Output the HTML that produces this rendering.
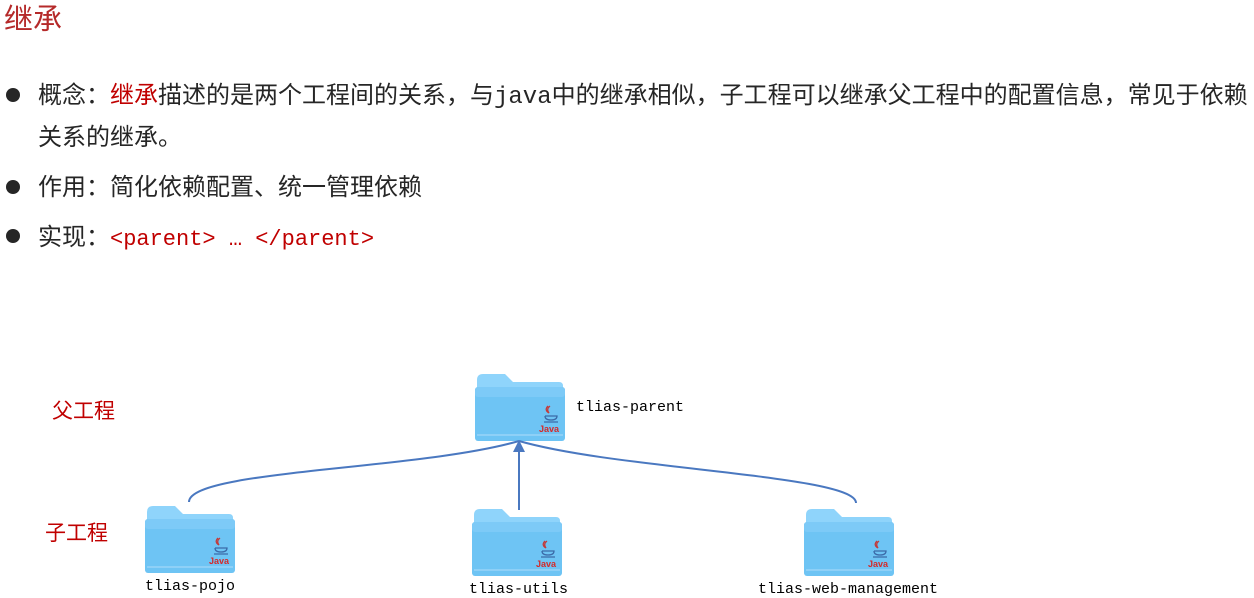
<!DOCTYPE html>
<html><head><meta charset="utf-8"><style>
body{margin:0;width:1254px;height:598px;background:#fff;position:relative;overflow:hidden;font-family:"Liberation Sans","Noto Sans CJK SC",sans-serif;color:#262626}
.a{position:absolute;white-space:nowrap}
.t{font-size:24px;line-height:24px}
.r{color:#c00000}
.m{font-family:"Liberation Mono","Noto Sans CJK SC",monospace}
.dot{position:absolute;width:14px;height:14px;border-radius:50%;background:#262626;left:6px}
</style></head><body>
<div class="a" style="left:4px;top:4px;font-size:29px;line-height:32px;color:#b52a2a">继承</div>
<div class="dot" style="top:88px"></div>
<div class="a t" style="left:38px;top:84px">概念：<span class="r">继承</span>描述的是两个工程间的关系，与<span class="m">java</span>中的继承相似，子工程可以继承父工程中的配置信息，常见于依赖</div>
<div class="a t" style="left:38px;top:126px">关系的继承。</div>
<div class="dot" style="top:180px"></div>
<div class="a t" style="left:38px;top:176px">作用：简化依赖配置、统一管理依赖</div>
<div class="dot" style="top:229px"></div>
<div class="a t" style="left:38px;top:226px">实现：<span class="r m" style="font-size:22px">&lt;parent&gt; … &lt;/parent&gt;</span></div>
<div class="a r" style="left:52px;top:395px;font-size:21px">父工程</div>
<div class="a r" style="left:45px;top:517px;font-size:21px">子工程</div>
<svg class="a" style="left:0;top:0" width="1254" height="598">
<defs>
<g id="f">
<path d="M2 6 Q2 0 8 0 H30 L38 8 H84 Q88 8 88 12 V60 H2 Z" fill="#8fd4fb"/>
<rect x="0" y="13" width="90" height="54" rx="3" fill="#6ec4f4"/>
<rect x="0" y="13" width="90" height="10" rx="3" fill="#7dcaf7"/>
<rect x="2" y="60" width="86" height="2" fill="#8ed0f7"/>
<path d="M73 32 q-4 4 1 7 q-3 -4 1 -7" stroke="#c23b3b" stroke-width="1.3" fill="none"/>
<path d="M70 42 h12 q0 4 -6 4 q-6 0 -6 -4 M69 48 h14" stroke="#3b6aa8" stroke-width="1.3" fill="none"/>
<text x="64" y="58" font-family="Liberation Sans" font-weight="bold" font-size="9" fill="#d42a2a">Java</text>
</g>
</defs>
<use href="#f" x="475" y="374"/>
<use href="#f" x="145" y="506"/>
<use href="#f" x="472" y="509"/>
<use href="#f" x="804" y="509"/>
<g stroke="#4a78c0" stroke-width="2" fill="none">
<path d="M189 502 C189 470 420 470 519 441"/>
<path d="M856 503 C856 475 620 470 519 441"/>
<path d="M519 510 V446"/>
</g>
<path d="M519 440 L513 452 L525 452 Z" fill="#4a78c0"/>
<text x="576" y="411" font-family="Liberation Mono" font-size="15">tlias-parent</text>
<text x="145" y="590" font-family="Liberation Mono" font-size="15">tlias-pojo</text>
<text x="469" y="593" font-family="Liberation Mono" font-size="15">tlias-utils</text>
<text x="758" y="593" font-family="Liberation Mono" font-size="15">tlias-web-management</text>
</svg>
</body></html>
